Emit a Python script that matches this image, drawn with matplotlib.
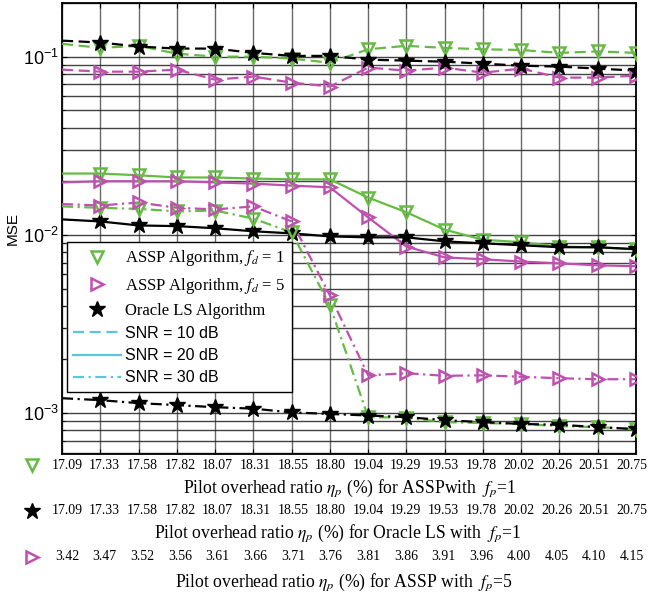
import numpy as np
import matplotlib
matplotlib.use("Agg")
import matplotlib.pyplot as plt
from matplotlib.lines import Line2D

plt.rcParams['font.family'] = 'Liberation Sans'
plt.rcParams['mathtext.fontset'] = 'stix'

# tick labels of the three x rows
eta_assp1 = ['17.09', '17.33', '17.58', '17.82', '18.07', '18.31', '18.55', '18.80',
             '19.04', '19.29', '19.53', '19.78', '20.02', '20.26', '20.51', '20.75']
eta_oracle = list(eta_assp1)
eta_assp5 = ['3.42', '3.47', '3.52', '3.56', '3.61', '3.66', '3.71', '3.76',
             '3.81', '3.86', '3.91', '3.96', '4.00', '4.05', '4.10', '4.15']

# SNR = 10 dB
assp1_10 = [0.118, 0.112, 0.115, 0.104, 0.100, 0.100, 0.0975, 0.0925,
            0.110, 0.115, 0.112, 0.110, 0.109, 0.105, 0.107, 0.105]
assp5_10 = [0.0846, 0.0824, 0.0824, 0.0846, 0.0743, 0.0773, 0.0715, 0.068,
            0.0868, 0.0835, 0.0868, 0.0813, 0.0857, 0.0763, 0.0763, 0.0783]
oracle_10 = [0.123, 0.120, 0.114, 0.111, 0.111, 0.105, 0.101, 0.101,
             0.0962, 0.095, 0.0937, 0.0914, 0.089, 0.0879, 0.0857, 0.0835]
# SNR = 20 dB
assp1_20 = [0.0221, 0.0221, 0.0216, 0.0210, 0.0210, 0.0207, 0.0205, 0.0205,
            0.0162, 0.0134, 0.0107, 0.0094, 0.0091, 0.0086, 0.0085, 0.0083]
assp5_20 = [0.0197, 0.0200, 0.0200, 0.0200, 0.0197, 0.0194, 0.0189, 0.0185,
            0.01253, 0.0086, 0.00748, 0.0073, 0.00709, 0.00692, 0.00675, 0.00667]
oracle_20 = [0.01222, 0.0119, 0.0113, 0.0112, 0.0109, 0.01048, 0.0102, 0.00981,
             0.00969, 0.00969, 0.0092, 0.00897, 0.00875, 0.00853, 0.00853, 0.00832]
# SNR = 30 dB
assp1_30 = [0.01445, 0.01418, 0.0140, 0.01355, 0.0137, 0.01235, 0.01032, 0.00403,
            0.00095, 0.000943, 0.00089, 0.00088, 0.00087, 0.000845, 0.000835, 0.000813]
assp5_30 = [0.0149, 0.01462, 0.0152, 0.0142, 0.0139, 0.01445, 0.01191, 0.00458,
            0.00163, 0.001675, 0.00162, 0.00163, 0.0016, 0.00157, 0.00155, 0.00155]
oracle_30 = [0.001213, 0.001183, 0.001138, 0.00111, 0.00108, 0.00106, 0.00101, 0.00099,
             0.00097, 0.00095, 0.000914, 0.00089, 0.00087, 0.00086, 0.000836, 0.000813]

green = '#66bb44'
magenta = '#c050b0'
cyan = '#5bc5dc'

x = np.arange(len(eta_assp1))

fig = plt.figure(figsize=(6.52, 5.98), dpi=100)
ax = fig.add_axes([62 / 652, 1 - 454 / 598, 574 / 652, 451 / 598])

styles = {'10': (0, (5, 2.5)), '20': '-', '30': (0, (5, 2, 1, 2))}
series = [
    (assp1_10, green, 'v', '10'), (assp5_10, magenta, '>', '10'), (oracle_10, 'k', '*', '10'),
    (assp1_20, green, 'v', '20'), (assp5_20, magenta, '>', '20'), (oracle_20, 'k', '*', '20'),
    (assp1_30, green, 'v', '30'), (assp5_30, magenta, '>', '30'), (oracle_30, 'k', '*', '30'),
]
for vals, col, mk, snr in series:
    ax.plot(x, vals, color=col, ls=styles[snr], lw=1.6, zorder=3)
    # first point sits on the left edge without a marker, as in the original
    if mk == '*':
        ax.plot(x[1:], vals[1:], ls='none', marker=mk, ms=12, color=col, zorder=4)
    else:
        ax.plot(x[1:], vals[1:], ls='none', marker=mk, ms=9, mfc='none', mec=col,
                mew=1.8, zorder=4)

ax.set_yscale('log')
ax.set_ylim(5.9e-4, 0.2)
ax.set_xlim(0, 15)
ax.set_xticks(x)
ax.set_xticklabels([])
ax.tick_params(which='both', direction='in', top=True, right=True)
ax.tick_params(axis='y', labelsize=13, pad=2)
ax.grid(True, which='major', axis='x', color='#444444', lw=1.0, alpha=0.8)
ax.grid(True, which='both', axis='y', color='#222222', lw=1.0, alpha=0.85)
for s in ax.spines.values():
    s.set_linewidth(1.3)
ax.set_ylabel('MSE', fontsize=11)
ax.yaxis.set_label_coords(-0.073, 0.5)

# legend
handles = [
    Line2D([], [], ls='none', marker='v', ms=9, mfc='none', mec=green, mew=1.8),
    Line2D([], [], ls='none', marker='>', ms=9, mfc='none', mec=magenta, mew=1.8),
    Line2D([], [], ls='none', marker='*', ms=12, color='k'),
    Line2D([], [], color=cyan, ls=styles['10'], lw=1.6),
    Line2D([], [], color=cyan, ls=styles['20'], lw=1.6),
    Line2D([], [], color=cyan, ls=styles['30'], lw=1.6),
]
labels = ['ASSP Algorithm, $f_d$ = 1', 'ASSP Algorithm, $f_d$ = 5', 'Oracle LS Algorithm',
          'SNR = 10 dB', 'SNR = 20 dB', 'SNR = 30 dB']
leg = ax.legend(handles, labels, loc='upper left', bbox_to_anchor=(0.0087, 0.470),
                fontsize=11.5, handlelength=3.0, handletextpad=0.25, labelspacing=0.45,
                borderaxespad=0, fancybox=False, framealpha=1, edgecolor='k',
                borderpad=0.4)
leg.get_frame().set_linewidth(1.0)
for t in leg.get_texts()[:3]:
    t.set_fontfamily('Liberation Serif')
    t.set_fontsize(12)

# three rows of pilot overhead labels under the axes
xt = ax.get_xaxis_transform()
lab_x = 0.13 + x * (14.76 / 15)
rows = [
    (eta_assp1, -0.0244, 'v', green, 'Pilot overhead ratio $\\eta_p$ (%) for ASSPwith  $f_p$=1', -0.0754, 0.0),
    (eta_oracle, -0.126, '*', 'k', 'Pilot overhead ratio $\\eta_p$ (%) for Oracle LS with  $f_p$=1', -0.175, -0.29),
    (eta_assp5, -0.228, '>', magenta, 'Pilot overhead ratio $\\eta_p$ (%) for ASSP with  $f_p$=5', -0.284, -0.14),
]
for labs, yr, mk, col, title, yt, dx in rows:
    for xi, lab in zip(lab_x, labs):
        ax.text(xi, yr, lab, transform=xt, ha='center', va='center',
                fontsize=10, family='Liberation Serif', clip_on=False)
    if mk == '*':
        ax.plot([-0.78], [yr], transform=xt, ls='none', marker=mk, ms=12, color=col, clip_on=False)
    else:
        ax.plot([-0.78], [yr], transform=xt, ls='none', marker=mk, ms=9, mfc='none',
                mec=col, mew=1.8, clip_on=False)
    ax.text(7.5 + dx, yt, title, transform=xt, ha='center', va='center',
            fontsize=12.7, family='Liberation Serif', clip_on=False)

fig.savefig('out.png', dpi=100)
